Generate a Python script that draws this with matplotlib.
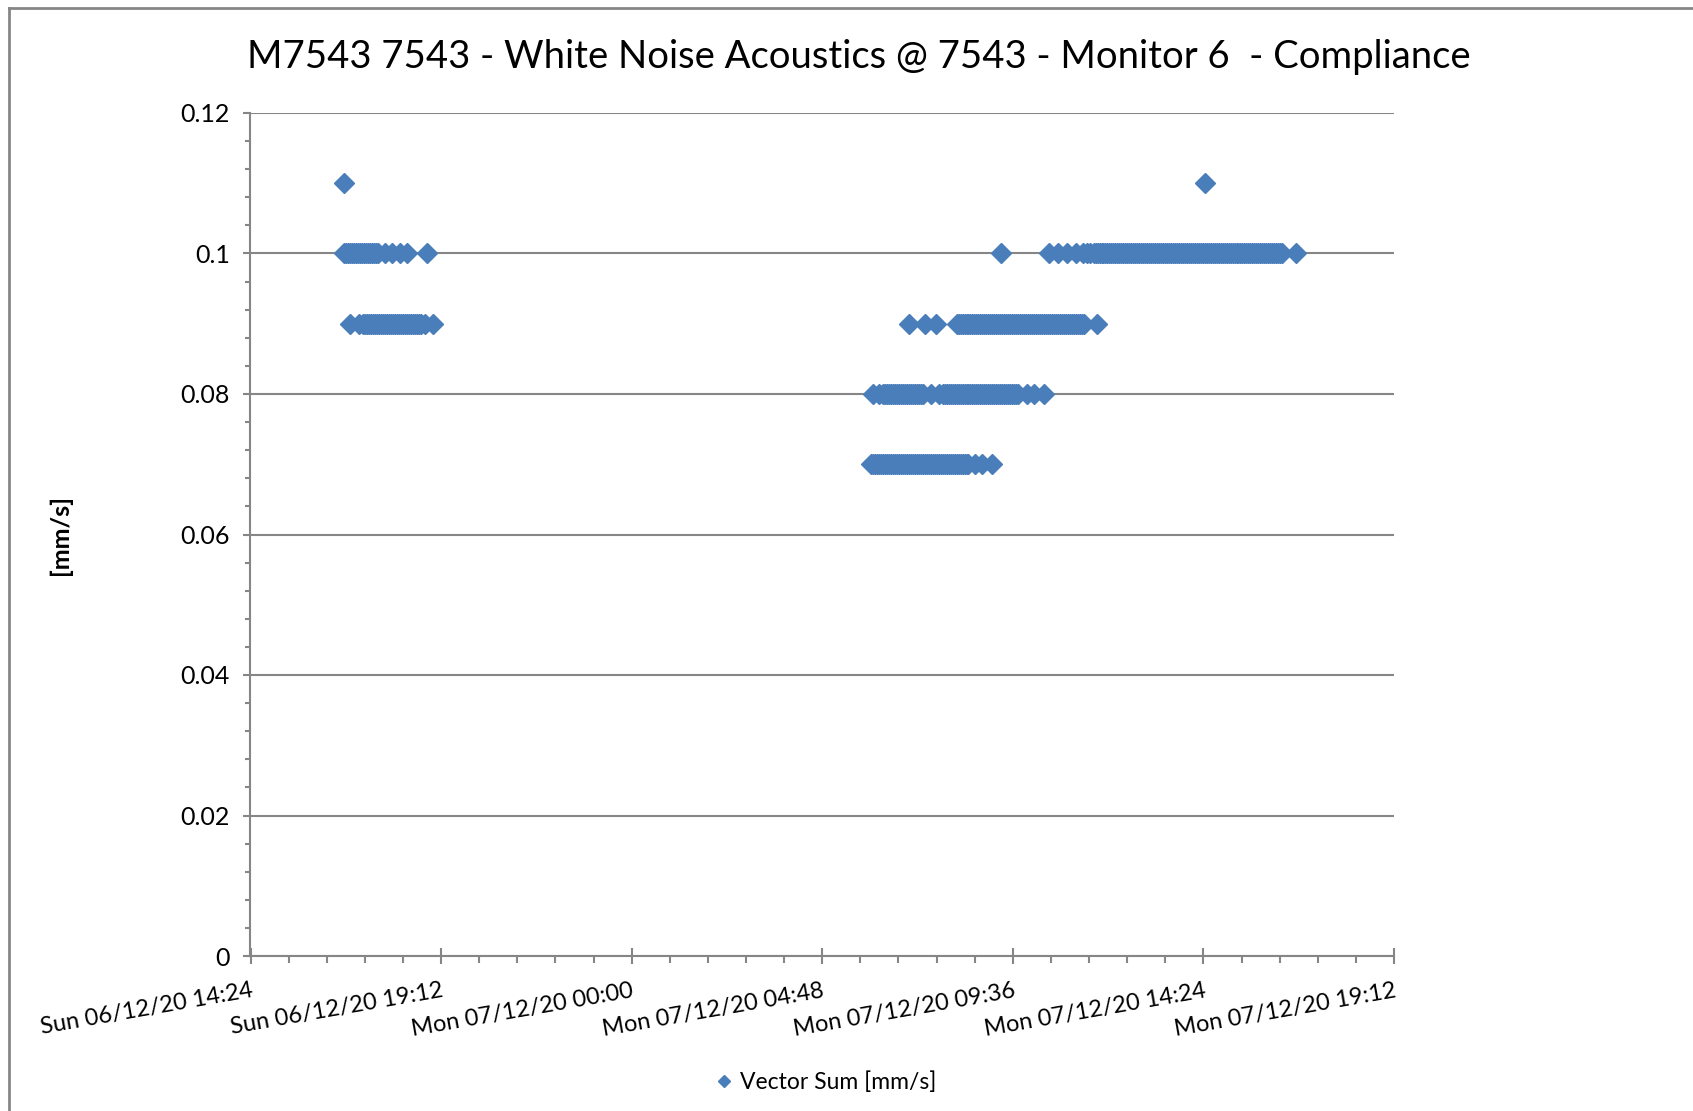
import matplotlib.pyplot as plt
import matplotlib.dates as mdates
from matplotlib.lines import Line2D
from matplotlib.ticker import FixedLocator, FixedFormatter, MultipleLocator
from datetime import datetime

plt.rcParams["font.family"] = ["Lato", "DejaVu Sans"]

title = "M7543 7543 - White Noise Acoustics @ 7543 - Monitor 6  - Compliance"
series_label = "Vector Sum [mm/s]"
y_label = "[mm/s]"

x_start = datetime(2020, 12, 6, 14, 24)
x_end = datetime(2020, 12, 7, 19, 12)

x_tick_times = [
    datetime(2020, 12, 6, 14, 24),
    datetime(2020, 12, 6, 19, 12),
    datetime(2020, 12, 7, 0, 0),
    datetime(2020, 12, 7, 4, 48),
    datetime(2020, 12, 7, 9, 36),
    datetime(2020, 12, 7, 14, 24),
    datetime(2020, 12, 7, 19, 12),
]
x_tick_labels = [
    "Sun 06/12/20 14:24",
    "Sun 06/12/20 19:12",
    "Mon 07/12/20 00:00",
    "Mon 07/12/20 04:48",
    "Mon 07/12/20 09:36",
    "Mon 07/12/20 14:24",
    "Mon 07/12/20 19:12",
]
y_ticks = [0, 0.02, 0.04, 0.06, 0.08, 0.10, 0.12]
y_tick_labels = ["0", "0.02", "0.04", "0.06", "0.08", "0.1", "0.12"]

# readings (HH:MM) grouped by level, Sunday 06/12/20
sun_011 = "16:45"
sun_010 = """16:45 16:48 16:51 16:54 16:57 17:00 17:03 17:06 17:09 17:12 17:15
17:18 17:21 17:24 17:27 17:30 17:33 17:36 17:47 17:58 18:10 18:20 18:50"""
sun_009 = """16:55 17:08 17:14 17:17 17:20 17:23 17:26 17:29 17:32 17:35 17:38
17:41 17:44 17:47 17:50 17:53 17:56 17:59 18:02 18:05 18:08 18:11 18:14
18:17 18:20 18:23 18:26 18:29 18:32 18:35 18:38 18:41 18:48 19:00"""

# readings (HH:MM) grouped by level, Monday 07/12/20
mon_011 = "14:26"
mon_010 = """09:18 10:31 10:45 10:58 11:12 11:22 11:28 11:33
11:38 11:41 11:44 11:47 11:50 11:53 11:56 11:59
12:02 12:05 12:08 12:11 12:14 12:17 12:20 12:23 12:26 12:29
12:32 12:35 12:38 12:41 12:44 12:47 12:50 12:53 12:56 12:59
13:02 13:05 13:08 13:11 13:14 13:17 13:20 13:23 13:26 13:29
13:32 13:35 13:38 13:41 13:44 13:47 13:50 13:53 13:56 13:59
14:02 14:05 14:08 14:11 14:14 14:17 14:20 14:23 14:26 14:29
14:32 14:35 14:38 14:41 14:44 14:47 14:50 14:53 14:56 14:59
15:02 15:05 15:08 15:11 15:14 15:17 15:20 15:23 15:26 15:29
15:32 15:35 15:38 15:41 15:44 15:47 15:50 15:53 15:56 15:59
16:02 16:05 16:08 16:11 16:14 16:17 16:20 16:23 16:44"""
mon_009 = """06:59 07:24 07:40
08:11 08:14 08:17 08:20 08:23 08:26 08:29
08:32 08:35 08:38 08:41 08:44 08:47 08:50 08:53 08:56 08:59
09:02 09:05 09:08 09:11 09:14 09:17 09:20 09:23 09:26 09:29
09:32 09:35 09:38 09:41 09:44 09:47 09:50 09:53 09:56 09:59
10:02 10:05 10:08 10:11 10:14 10:17 10:20 10:23 10:26 10:29
10:32 10:35 10:38 10:41 10:44 10:47 10:50 10:53 10:56 10:59
11:02 11:05 11:08 11:11 11:14 11:17 11:20 11:23 11:43"""
mon_008 = """06:04 06:14 06:20 06:23 06:26 06:29
06:32 06:35 06:38 06:41 06:44 06:47 06:50 06:53 06:56 06:59
07:02 07:05 07:08 07:11 07:14 07:17 07:20 07:32 07:44
07:50 07:53 07:56 07:59
08:02 08:05 08:08 08:11 08:14 08:17 08:20 08:23 08:26 08:29
08:32 08:35 08:38 08:41 08:44 08:47 08:50 08:53 08:56 08:59
09:02 09:05 09:08 09:11 09:14 09:17 09:20 09:23 09:26 09:29
09:32 09:35 09:38 09:41 09:44 09:58 10:08 10:23"""
mon_007 = """06:02 06:05 06:08 06:11 06:14 06:17 06:20 06:23 06:26 06:29
06:32 06:35 06:38 06:41 06:44 06:47 06:50 06:53 06:56 06:59
07:02 07:05 07:08 07:11 07:14 07:17 07:20 07:23 07:26 07:29
07:32 07:35 07:38 07:41 07:44 07:47 07:50 07:53 07:56 07:59
08:02 08:05 08:08 08:11 08:14 08:17 08:20 08:23 08:26 08:29
08:39 08:49 09:04"""


def stamps(day, text):
    return [datetime.strptime(f"{day} {t}", "%Y-%m-%d %H:%M") for t in text.split()]


groups = [
    ("2020-12-06", sun_011, 0.11),
    ("2020-12-06", sun_010, 0.10),
    ("2020-12-06", sun_009, 0.09),
    ("2020-12-07", mon_011, 0.11),
    ("2020-12-07", mon_010, 0.10),
    ("2020-12-07", mon_009, 0.09),
    ("2020-12-07", mon_008, 0.08),
    ("2020-12-07", mon_007, 0.07),
]
times = []
values = []
for day, text, level in groups:
    t = stamps(day, text)
    times += t
    values += [level] * len(t)

# ========================================================================================= #

W, H = 1693, 1111
fig = plt.figure(figsize=(W / 100, H / 100), dpi=100)
ax = fig.add_axes([250.5 / W, 1 - 956 / H, (1394 - 250.5) / W, (956 - 113) / H])

grey = "#868686"
blue = "#4a7ebb"

ax.plot(times, values, linestyle="none", marker="D", ms=10, color=blue,
        mec=blue, label=series_label, zorder=3)

ax.set_xlim(mdates.date2num(x_start), mdates.date2num(x_end))
ax.set_ylim(0, 0.12)

ax.xaxis.set_major_locator(FixedLocator(mdates.date2num(x_tick_times)))
ax.xaxis.set_major_formatter(FixedFormatter(x_tick_labels))
ax.xaxis.set_minor_locator(MultipleLocator(0.04))
ax.yaxis.set_major_locator(FixedLocator(y_ticks))
ax.yaxis.set_major_formatter(FixedFormatter(y_tick_labels))
ax.yaxis.set_minor_locator(MultipleLocator(0.004))

ax.tick_params(axis="x", which="major", direction="inout", length=11, width=1.5,
               color=grey, labelsize=17, pad=12)
ax.tick_params(axis="x", which="minor", direction="out", length=5, width=1.5, color=grey)
ax.tick_params(axis="y", which="major", direction="out", length=5, width=1.5,
               color=grey, labelsize=18, pad=10)
ax.tick_params(axis="y", which="minor", direction="out", length=3.5, width=1.5, color=grey)

for label in ax.get_xticklabels():
    label.set_rotation(10)
    label.set_ha("right")
    label.set_va("top")
    label.set_rotation_mode("anchor")

for side in ["top", "right"]:
    ax.spines[side].set_visible(False)
for side in ["left", "bottom"]:
    ax.spines[side].set_color(grey)
    ax.spines[side].set_linewidth(1.5)

ax.yaxis.grid(True, color=grey, linewidth=1.5)
ax.set_axisbelow(True)

ax.set_ylabel(y_label, fontsize=18, fontweight="bold")
ax.yaxis.set_label_coords(-0.156, 0.5)

fig.text(859 / W, 1 - 57 / H, title, ha="center", va="center", fontsize=27.5)

fig.legend(loc="center", bbox_to_anchor=(826 / W, 1 - 1082 / H), frameon=False,
           fontsize=16.5, markerscale=0.65, handlelength=0.8, handletextpad=0.3)

# chart area border
fig.add_artist(Line2D([9 / W, 9 / W], [0, 1 - 8 / H], transform=fig.transFigure,
                      color=grey, linewidth=2))
fig.add_artist(Line2D([9 / W, 1], [1 - 8 / H, 1 - 8 / H], transform=fig.transFigure,
                      color=grey, linewidth=2))

fig.savefig("out.png", dpi=100)
